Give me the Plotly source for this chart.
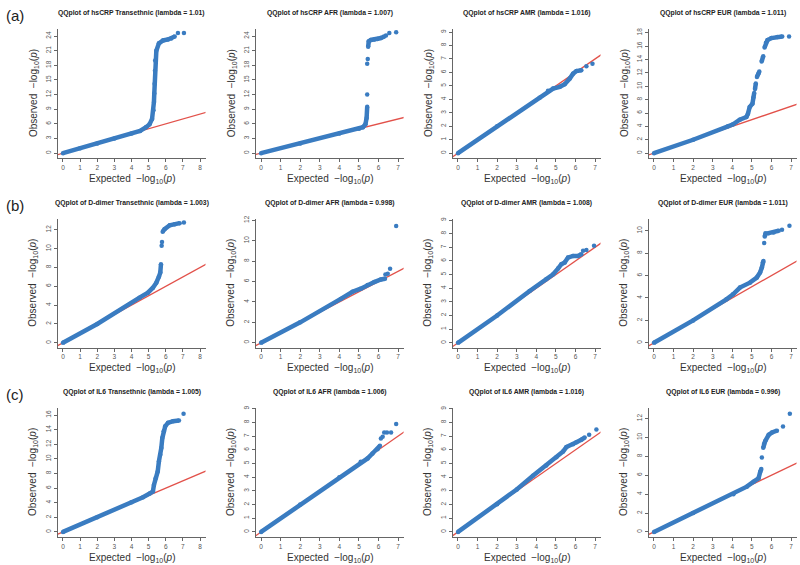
import plotly.graph_objects as go

W, H = 800, 565

titles = [
    "QQplot of hsCRP Transethnic (lambda = 1.01)",
    "QQplot of hsCRP AFR (lambda = 1.007)",
    "QQplot of hsCRP AMR (lambda = 1.016)",
    "QQplot of hsCRP EUR (lambda = 1.011)",
    "QQplot of D-dimer Transethnic (lambda = 1.003)",
    "QQplot of D-dimer AFR (lambda = 0.998)",
    "QQplot of D-dimer AMR (lambda = 1.008)",
    "QQplot of D-dimer EUR (lambda = 1.011)",
    "QQplot of IL6 Transethnic (lambda = 1.005)",
    "QQplot of IL6 AFR (lambda = 1.006)",
    "QQplot of IL6 AMR (lambda = 1.016)",
    "QQplot of IL6 EUR (lambda = 0.996)",
]
row_labels = ["(a)", "(b)", "(c)"]
x_limits = [8, 7, 7, 7, 8, 7, 7, 7, 8, 7, 7, 7]
y_limits = [24.4, 24.4, 8.85, 17.8, 12.64, 11.66, 8.73, 10.63, 16.3, 8.7, 8.7, 12.6]
y_dticks = [3, 3, 1, 2, 2, 2, 1, 2, 2, 1, 1, 2]
ref_line = [-2, 40]  # y = x reference

# ---- observed vs expected -log10(p) (dense part as band, sparse tail as points) ----
hscrp_trans_band_x = [0, 1, 2, 3, 4, 4.5, 4.85, 5.05, 5.2, 5.28, 5.31, 5.33, 5.35, 5.37, 5.38, 5.45, 5.6, 5.84, 6.13, 6.32, 6.52]
hscrp_trans_band_y = [0, 1, 2, 3, 4, 4.55, 5.3, 5.9, 7.0, 8.8, 10.5, 12.2, 14.2, 16.9, 19.0, 21.0, 22.5, 23.1, 23.3, 23.5, 23.9]
hscrp_trans_pts_x = [6.71, 7.06]
hscrp_trans_pts_y = [24.6, 24.6]

hscrp_afr_band_x = [0, 2, 4, 5.0, 5.2, 5.33, 5.39, 5.42, None, 5.47, 5.5, 5.61, 5.78, 5.95, 6.12, 6.29]
hscrp_afr_band_y = [0, 2, 4, 5.0, 5.3, 5.9, 7.2, 9.5, None, 21.8, 22.9, 23.2, 23.3, 23.4, 23.6, 23.9]
hscrp_afr_pts_x = [5.42, 5.42, 5.45, 6.38, 6.55, 6.9]
hscrp_afr_pts_y = [12.0, 18.3, 19.3, 24.1, 24.6, 24.8]

hscrp_amr_band_x = [0, 2, 4.17, 4.6, 4.86, 5.2, 5.45, 5.71, 5.88, 6.05, 6.3]
hscrp_amr_band_y = [0, 2, 4.11, 4.63, 4.8, 4.93, 5.12, 5.54, 5.91, 6.1, 6.16]
hscrp_amr_pts_x = [6.56, 6.87]
hscrp_amr_pts_y = [6.45, 6.65]

hscrp_eur_band_x = [0, 2, 3.78, 4.04, 4.38, 4.72, 4.8, 4.89, 5.03, 5.08, 5.12, None, 5.16, 5.2, None,
                    5.26, 5.32, 5.38, None, 5.5, 5.58, None, 5.65, 5.72, 5.8, 6.0, 6.3, 6.55]
hscrp_eur_band_y = [0, 2, 4.01, 4.31, 5.0, 5.4, 5.9, 6.9, 7.4, 8.3, 9.0, None, 9.6, 10.4, None,
                    11.4, 11.8, 12.2, None, 13.7, 14.5, None, 15.8, 16.5, 16.9, 17.2, 17.35, 17.45]
hscrp_eur_pts_x = [6.9]
hscrp_eur_pts_y = [17.45]

ddimer_trans_band_x = [0, 2, 4.47, 4.96, 5.25, 5.45, 5.6, 5.68, 5.72, None, 5.82, 5.93, 6.23, 6.52, 6.81]
ddimer_trans_band_y = [0, 2, 4.79, 5.32, 5.85, 6.38, 7.02, 7.45, 8.33, None, 11.8, 12.06, 12.48, 12.59, 12.7]
ddimer_trans_pts_x = [5.76, 5.78, 7.06]
ddimer_trans_pts_y = [10.3, 10.7, 12.77]

ddimer_afr_band_x = [0, 2, 4.07, 4.67, 5.09, 5.44, 5.78, 6.12, 6.33]
ddimer_afr_band_y = [0, 2, 4.3, 5.0, 5.3, 5.65, 5.95, 6.2, 6.27]
ddimer_afr_pts_x = [6.35, 6.47, 6.59, 6.9]
ddimer_afr_pts_y = [6.7, 6.76, 7.25, 11.44]

ddimer_amr_band_x = [0, 2, 3.66, 4.51, 4.86, 5.11, 5.28, 5.45, 5.62, 5.88, 6.13, 6.3]
ddimer_amr_band_y = [0, 2, 3.8, 4.66, 5.02, 5.44, 5.76, 5.88, 6.25, 6.37, 6.37, 6.5]
ddimer_amr_pts_x = [6.39, 6.56, 6.95]
ddimer_amr_pts_y = [6.74, 6.81, 7.11]

ddimer_eur_band_x = [0, 2, 3.7, 4.04, 4.39, 4.9, 5.25, 5.42, 5.51, 5.56, 5.59, None, 5.66, 5.7, 5.85, 6.11, 6.37]
ddimer_eur_band_y = [0, 2, 3.88, 4.33, 4.93, 5.37, 5.82, 6.27, 6.72, 7.16, 7.31, None, 9.5, 9.75, 9.79, 9.85, 10.0]
ddimer_eur_pts_x = [5.63, 6.54, 6.92]
ddimer_eur_pts_y = [8.9, 10.09, 10.45]

il6_trans_band_x = [0, 2, 4, 4.67, 5.06, 5.25, 5.31, 5.41, 5.53, 5.6, 5.68, 5.74, 5.8, 5.88, 5.97, 6.13, 6.42, 6.77]
il6_trans_band_y = [0, 2, 4.05, 4.75, 5.25, 5.55, 6.44, 7.36, 8.28, 9.66, 10.57, 11.49, 12.87, 13.79, 14.48, 14.94, 15.17, 15.26]
il6_trans_pts_x = [7.04]
il6_trans_pts_y = [16.18]

il6_afr_band_x = [0, 2, 4, 5.09, 5.44, 5.69, 5.95, 6.07]
il6_afr_band_y = [0, 2, 4, 5.12, 5.37, 5.73, 6.05, 6.3]
il6_afr_pts_x = [6.12, 6.21, 6.29, 6.43, 6.64, 6.9]
il6_afr_pts_y = [6.83, 6.95, 7.27, 7.27, 7.27, 7.88]

il6_amr_band_x = [0, 2, 3, 3.83, 4.51, 5.03, 5.37, 5.54, 5.88, 6.05, 6.3, 6.47]
il6_amr_band_y = [0, 2.03, 3.1, 4.1, 4.85, 5.45, 5.88, 6.2, 6.4, 6.55, 6.74, 6.9]
il6_amr_pts_x = [6.7, 7.07]
il6_amr_pts_y = [7.1, 7.48]

il6_eur_band_x = [0, 2, 4.06, 4.74, 5.09, 5.34, 5.43, 5.48, None, 5.58, 5.62, 5.68, 5.86, 6.03, 6.28]
il6_eur_band_y = [0, 2, 4.0, 4.79, 5.32, 5.67, 6.38, 6.67, None, 8.9, 9.3, 9.6, 10.28, 10.53, 10.71]
il6_eur_pts_x = [5.51, 6.59, 6.94]
il6_eur_pts_y = [7.87, 11.17, 12.52]

bands = [
    (hscrp_trans_band_x, hscrp_trans_band_y, hscrp_trans_pts_x, hscrp_trans_pts_y),
    (hscrp_afr_band_x, hscrp_afr_band_y, hscrp_afr_pts_x, hscrp_afr_pts_y),
    (hscrp_amr_band_x, hscrp_amr_band_y, hscrp_amr_pts_x, hscrp_amr_pts_y),
    (hscrp_eur_band_x, hscrp_eur_band_y, hscrp_eur_pts_x, hscrp_eur_pts_y),
    (ddimer_trans_band_x, ddimer_trans_band_y, ddimer_trans_pts_x, ddimer_trans_pts_y),
    (ddimer_afr_band_x, ddimer_afr_band_y, ddimer_afr_pts_x, ddimer_afr_pts_y),
    (ddimer_amr_band_x, ddimer_amr_band_y, ddimer_amr_pts_x, ddimer_amr_pts_y),
    (ddimer_eur_band_x, ddimer_eur_band_y, ddimer_eur_pts_x, ddimer_eur_pts_y),
    (il6_trans_band_x, il6_trans_band_y, il6_trans_pts_x, il6_trans_pts_y),
    (il6_afr_band_x, il6_afr_band_y, il6_afr_pts_x, il6_afr_pts_y),
    (il6_amr_band_x, il6_amr_band_y, il6_amr_pts_x, il6_amr_pts_y),
    (il6_eur_band_x, il6_eur_band_y, il6_eur_pts_x, il6_eur_pts_y),
]

# ---- layout geometry (pixels) ----
col_left = [57.5, 255.6, 452.5, 648.5]
col_width = 148
row_top = [25.5, 216.5, 407]
row_height = 129.5

BLUE = "#3a7cc1"
RED = "#e2514a"
AXC = "#666666"
FONT = "Liberation Sans, Arial, sans-serif"

fig = go.Figure()
layout = dict(
    width=W, height=H, margin=dict(l=0, r=0, t=0, b=0),
    paper_bgcolor="white", plot_bgcolor="white", showlegend=False,
    font=dict(family=FONT, color="#333"),
)
annotations = []

for i in range(12):
    r, c = divmod(i, 4)
    n = i + 1
    xa = "x" if n == 1 else f"x{n}"
    ya = "y" if n == 1 else f"y{n}"
    left, top = col_left[c], row_top[r]
    right, bottom = left + col_width, top + row_height
    xd = [left / W, right / W]
    yd = [1 - bottom / H, 1 - top / H]
    XL, YL = x_limits[i], y_limits[i]
    axis_common = dict(
        showgrid=False, zeroline=False, showline=True, linecolor=AXC, linewidth=1,
        ticks="outside", ticklen=3, tickcolor=AXC, tickwidth=1,
        tickfont=dict(size=6.5, color="#555", family=FONT),
    )
    layout["xaxis" if n == 1 else f"xaxis{n}"] = dict(
        domain=xd, range=[-0.04 * XL, 1.04 * XL], dtick=1, tick0=0,
        anchor=ya, **axis_common)
    layout["yaxis" if n == 1 else f"yaxis{n}"] = dict(
        domain=yd, range=[-0.04 * YL, 1.04 * YL], dtick=y_dticks[i], tick0=0,
        tickangle=-90, anchor=xa, **axis_common)

    fig.add_trace(go.Scatter(x=ref_line, y=ref_line, mode="lines", xaxis=xa, yaxis=ya,
                             line=dict(color=RED, width=1.3), hoverinfo="skip"))
    bx, by, px, py = bands[i]
    fig.add_trace(go.Scatter(x=bx, y=by, mode="lines+markers", xaxis=xa, yaxis=ya,
                             line=dict(color=BLUE, width=4.5), marker=dict(color=BLUE, size=4.5),
                             connectgaps=False))
    fig.add_trace(go.Scatter(x=px, y=py, mode="markers", xaxis=xa, yaxis=ya,
                             marker=dict(color=BLUE, size=4.5)))

    cx = (left + right) / 2
    annotations.append(dict(text=f"<b>{titles[i]}</b>", x=cx / W, y=1 - (top - 16) / H,
                            xref="paper", yref="paper", showarrow=False,
                            font=dict(size=6.8, color="#222", family=FONT),
                            xanchor="center", yanchor="middle"))
    annotations.append(dict(text="Expected  \u2212log<sub>10</sub>(<i>p</i>)", x=cx / W,
                            y=1 - (bottom + 21) / H, xref="paper", yref="paper", showarrow=False,
                            font=dict(size=10, color="#333", family=FONT),
                            xanchor="center", yanchor="middle"))
    annotations.append(dict(text="Observed  \u2212log<sub>10</sub>(<i>p</i>)", x=(left - 24) / W,
                            y=1 - ((top + bottom) / 2) / H, xref="paper", yref="paper",
                            showarrow=False, textangle=-90,
                            font=dict(size=10, color="#333", family=FONT),
                            xanchor="center", yanchor="middle"))

for r, lab in enumerate(row_labels):
    annotations.append(dict(text=lab, x=4 / W, y=1 - (row_top[r] - 14) / H, xref="paper",
                            yref="paper", showarrow=False, xanchor="left", yanchor="middle",
                            font=dict(size=15, color="#222", family=FONT)))

layout["annotations"] = annotations
fig.update_layout(**layout)
fig.write_html("out.html", config={"displayModeBar": False},
               post_script="document.body.style.margin='0px';")
